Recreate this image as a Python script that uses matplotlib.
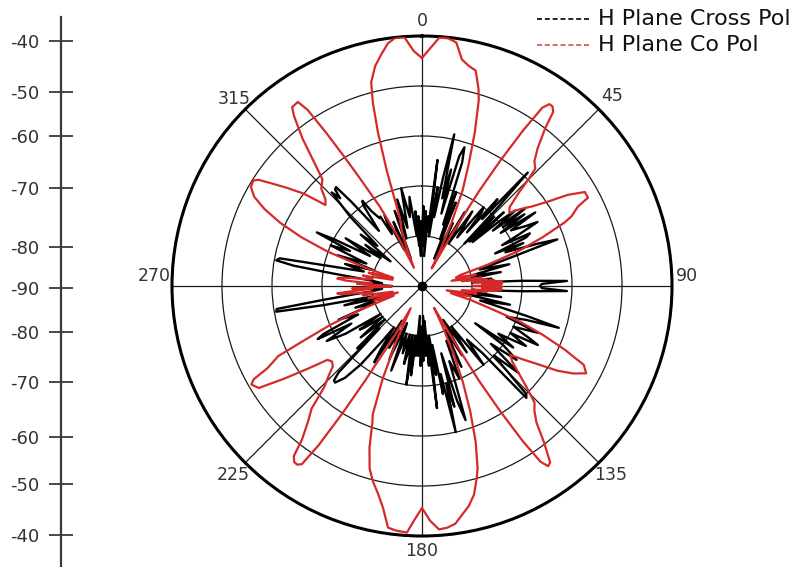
import numpy as np
import matplotlib
matplotlib.use("Agg")
import matplotlib.pyplot as plt
from matplotlib.lines import Line2D

# ---------------- data (angle in degrees clockwise from north, level in dB) ----
co_angle = [0, 2, 4, 6, 8, 10, 12, 14, 16, 17, 19, 21, 23, 25, 27, 29, 30, 31, 32, 33,
            34, 35, 36, 37, 38, 40, 42, 44, 45, 46, 48, 50, 52, 54, 56, 58, 60, 62, 63, 65,
            66, 68, 70, 72, 74, 76, 78, 80, 82, 83, 84, 85, 85.5, 86, 86.5, 87, 87.5, 88, 88.5, 89,
            89.5, 90, 90.5, 91, 91.5, 92, 92.5, 93, 93.5, 94, 95, 96, 98, 100, 102, 104, 106, 108, 110, 112,
            114, 116, 118, 120, 122, 124, 126, 128, 130, 132,
            134, 136, 138, 140, 142, 144, 145, 146, 147, 148, 149, 150, 151, 153, 155, 157, 159, 161, 163, 164,
            166, 168, 170, 172, 174, 176, 178, 180, 182, 183.5, 186, 188, 190, 192, 194, 196, 198, 200, 201, 203,
            205, 207, 209, 211, 212, 213, 214, 215, 216, 217, 218, 220, 222, 224, 226, 228, 230, 232, 234, 236,
            238, 240, 241, 242, 244, 245, 247, 249, 251, 253, 255, 257, 259, 261, 263, 264, 264.5, 265, 265.5, 266,
            267, 268, 269, 270, 271, 272, 273, 274, 274.5, 275, 275.5, 276, 276.5, 277, 278, 280, 282, 284,
            286, 288, 290, 292, 294, 296, 298, 300, 302,
            303, 304, 306, 308, 310, 312, 314, 317, 319, 321, 323, 324, 326, 327, 328, 329, 330, 332, 334, 336,
            338, 340, 342, 343, 344, 345, 346, 348, 350, 352, 354, 356, 358, 360]
co_db = [-44.4, -42.4, -40.2, -40.2, -40.8, -44.0, -45.0, -45.6, -49.0, -51.2, -57.6, -64.0, -69.2, -76.0, -82.0, -86.0, -78.0, -68.0, -60.4, -53.0,
         -47.0, -45.6, -45.6, -46.4, -50.0, -54.0, -56.4, -57.4, -60.0, -63.0, -66.4, -67.2, -65.0, -63.0, -60.0, -55.6, -52.4, -52.4, -55.0, -57.0,
         -58.8, -64.0, -69.2, -76.0, -82.0, -83.0, -79.0, -84.0, -78.0, -82.0, -77.0, -80.0, -75.5, -79.0, -74.0, -77.0, -74.5, -78.0, -74.0, -77.5,
         -74.5, -80.0, -74.0, -77.0, -74.5, -78.0, -74.0, -77.5, -75.0, -80.0, -77.0, -82.0, -79.0, -85.0, -80.0, -84.0, -80.0, -76.0, -69.2, -64.0,
         -58.8, -54.0, -52.8, -55.0, -58.0, -62.0, -65.0, -67.6, -66.4, -64.0,
         -61.0, -57.6, -56.4, -54.4, -50.4, -46.4, -46.0, -47.6, -53.0, -60.4, -68.0, -78.0, -85.0, -81.0, -75.0, -69.0, -63.0, -57.0, -52.0, -50.2,
         -47.0, -45.0, -43.6, -42.0, -41.4, -41.2, -43.0, -45.6, -43.0, -40.6, -40.8, -41.2, -45.0, -47.6, -49.6, -52.0, -56.0, -61.0, -62.5, -70.0,
         -78.0, -85.0, -78.0, -68.0, -60.0, -52.0, -47.0, -46.4, -46.5, -47.4, -51.0, -54.5, -57.0, -61.8, -64.0, -66.0, -66.5, -66.0, -62.0, -57.0,
         -51.5, -50.6, -51.5, -55.0, -58.0, -63.0, -70.0, -77.0, -84.0, -80.0, -85.0, -79.0, -84.0, -78.0, -80.0, -75.0, -73.5, -73.0, -75.0, -77.0,
         -80.0, -76.0, -84.0, -79.0, -82.0, -77.0, -80.0, -75.0, -74.0, -73.0, -73.2, -74.0, -76.0, -79.0, -80.0, -78.0, -84.0, -79.0,
         -84.0, -78.0, -70.0, -64.0, -59.0, -55.0, -52.0, -50.5, -50.2,
         -51.0, -53.0, -56.6, -60.0, -64.8, -64.0, -62.0, -60.8, -57.0, -52.0, -47.5, -45.8, -45.6, -48.0, -54.0, -60.0, -65.0, -72.0, -79.0, -86.0,
         -82.0, -78.0, -75.6, -66.0, -58.0, -52.0, -48.0, -45.0, -43.0, -41.0, -40.0, -40.2, -43.0, -44.4]

cross_angle = [0, 1, 2, 3, 4, 5, 6, 7, 8, 9, 10, 11, 12, 13, 14, 15, 16, 17, 18, 19,
               20, 21, 22, 24, 26, 28, 30, 32, 34, 36, 38, 39, 40, 41, 42, 43, 44, 45, 46, 47,
               48, 49, 50, 51, 52, 53, 54, 55, 56, 57, 58, 60, 61, 62, 63, 64, 65, 66, 67, 68,
               70, 71, 72, 74, 76, 78, 80, 82, 84, 86, 87, 88, 89, 90, 91, 92, 93, 94, 96, 98,
               100, 102, 104, 106, 107, 108, 110, 112, 114, 116, 117, 118, 120, 122, 124, 125, 126, 128, 130, 132,
               134, 136, 137, 138, 140, 142, 144, 146, 148, 150, 152, 154, 156, 158, 160, 162, 163, 164, 165, 166,
               167, 168, 169, 170, 171, 172, 173, 174, 175, 176, 177, 178, 179, 180, 181, 182, 183, 184, 185, 186,
               187, 188, 189, 190, 191, 192, 193, 194, 196, 198, 200, 202, 204, 206, 208, 210, 212, 213, 214, 216,
               218, 220, 222, 223, 224, 225, 226, 228, 230, 232, 234, 235, 236, 238, 240, 242, 243, 244, 246, 248,
               250, 252, 254, 256, 258, 259, 260, 261, 262, 263, 264, 266, 268, 270, 272, 274, 276, 278, 279, 280,
               281, 282, 284, 286, 288, 290, 292, 294, 296, 297, 298, 300, 302, 304, 306, 308, 310, 312, 314, 316,
               317, 318, 319, 320, 322, 324, 325, 326, 328, 329, 330, 332, 334, 336, 338, 340, 342, 344, 346, 348,
               350, 352, 354, 355, 356, 357, 358, 359, 360]
cross_db = [-80, -74, -82, -75, -84, -76, -79, -64.6, -80, -70, -76, -68, -59, -72, -66, -75, -63, -61, -64, -77,
            -70, -80, -72, -84, -76, -82, -73, -80, -72, -78, -70, -71, -76, -67, -72, -59, -68, -78, -70, -77,
            -68, -76.6, -70, -66, -72, -64, -70, -65, -71, -63, -69, -66, -63.6, -68, -72, -66, -67, -74, -68, -72,
            -65, -61.4, -70, -78, -72, -80, -74, -82, -76, -80, -70, -61, -66, -66.4, -66, -61, -70, -78, -80, -74,
            -82, -72, -78, -68, -61.4, -68, -72, -65, -70, -66, -64, -70, -66, -72, -68, -77, -70, -66, -72, -64,
            -70, -60, -59.4, -72, -76, -70, -80, -74, -82, -74, -80, -72, -78, -70, -74, -61.8, -66, -76, -65, -70,
            -60, -72, -68, -78, -72, -80, -65.4, -80, -74, -83, -76, -84, -75, -80, -74, -82, -76, -84, -76, -80,
            -72, -80, -70, -76, -80, -76, -74, -80, -76, -80, -72, -82, -74, -80, -76, -82, -72, -74.6, -80, -76,
            -70, -66, -64, -64.2, -66, -78, -72, -80, -74, -80, -76, -74.8, -80, -72, -68, -74, -66.6, -68, -76, -72,
            -80, -76, -82, -74, -80, -70, -60.4, -60.6, -70, -76, -80, -82, -78, -84, -78, -82, -80, -72, -64, -60.4,
            -61, -70, -78, -74, -80, -72, -78, -70, -74, -66.4, -70, -78, -72, -80, -76, -82, -74, -78, -70, -64,
            -66, -64, -63.8, -68, -76, -70, -69.2, -72, -74, -73.8, -78, -74, -82, -76, -84, -74, -80, -72, -78, -70,
            -76, -72, -80, -75, -82, -76, -84, -77, -80]

theta_ticks = [0, 45, 90, 135, 180, 225, 270, 315]
theta_labels = ["0", "45", "90", "135", "180", "225", "270", "315"]
ring_levels = [-80, -70, -60, -50]
r_min, r_max = -90, -40

side_labels = ["-40", "-50", "-60", "-70", "-80", "-90", "-80", "-70", "-60", "-50", "-40"]

legend_names = ["H Plane Cross Pol", "H Plane Co Pol"]

# ---------------- figure ----------------
W, H = 810, 567
fig = plt.figure(figsize=(W / 100, H / 100), dpi=100)
fig.patch.set_facecolor("white")

ax = fig.add_axes([172 / W, 31 / H, 500 / W, 500 / H], projection="polar")
ax.set_theta_zero_location("N")
ax.set_theta_direction(-1)
ax.set_ylim(r_min, r_max)
ax.set_rgrids(ring_levels, labels=[""] * len(ring_levels))
ax.set_thetagrids(theta_ticks, labels=[""] * len(theta_ticks))
ax.grid(True, color="#1a1a1a", linewidth=0.9)
ax.spines["polar"].set_linewidth(2.2)
ax.spines["polar"].set_color("black")
ax.tick_params(length=0)

ax.plot(np.deg2rad(cross_angle), cross_db, color="black", linewidth=1.7, zorder=3)
ax.plot(np.deg2rad(co_angle), co_db, color="#d62a2a", linewidth=1.6, zorder=4)
ax.plot([0], [r_min], "o", color="black", markersize=6, zorder=5)

label_pos = {"0": (0, -37.0), "45": (45, -36.2), "90": (87.8, -37.0), "135": (135, -36.6),
             "180": (180, -37.0), "225": (225, -36.6), "270": (272.2, -36.4), "315": (315, -37.0)}
for lab in theta_labels:
    a, r = label_pos[lab]
    ax.text(np.deg2rad(a), r, lab, ha="center", va="center", fontsize=12.5,
            color="#333333", clip_on=False, zorder=6)

# ---------------- left scale ----------------
side_pos = [41, 92, 136, 188, 247, 288, 332, 382, 437, 484, 535]
axl = fig.add_axes([0, 0, 160 / W, 1])
axl.set_xlim(0, 160)
axl.set_ylim(H, 0)
for s in ["top", "right", "bottom"]:
    axl.spines[s].set_visible(False)
axl.spines["left"].set_position(("data", 61))
axl.spines["left"].set_bounds(17, H)
axl.spines["left"].set_linewidth(1.6)
axl.spines["left"].set_color("#3a3a3a")
axl.set_xticks([])
axl.set_yticks(side_pos)
axl.set_yticklabels(side_labels, fontsize=13, color="#333333")
axl.tick_params(axis="y", direction="inout", length=17, width=1.3, color="#3a3a3a", pad=7)
axl.patch.set_alpha(0)

# ---------------- legend ----------------
leg_colors = ["black", "#d94a4a"]
leg_y = [19, 45]
for name, c, y in zip(legend_names, leg_colors, leg_y):
    fig.add_artist(Line2D([537 / W, 591 / W], [1 - y / H, 1 - y / H], color=c,
                          linewidth=1.2, dashes=(3, 1.7), transform=fig.transFigure))
    fig.text(598 / W, 1 - y / H, name, fontsize=16, color="#111111",
             ha="left", va="center")

fig.savefig("out.png", dpi=100, facecolor="white")
